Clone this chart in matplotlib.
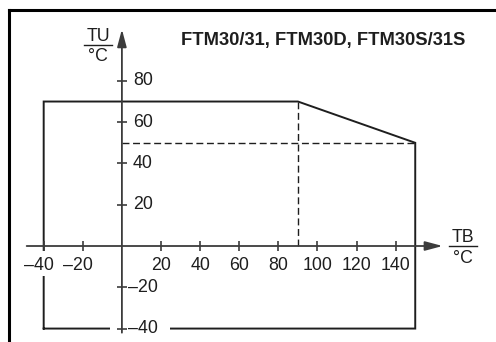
import matplotlib
matplotlib.use("Agg")
import matplotlib.pyplot as plt
from matplotlib.lines import Line2D
from matplotlib.patches import Rectangle

plt.rcParams['font.family'] = ['Liberation Sans', 'DejaVu Sans']
plt.rcParams['lines.scale_dashes'] = False

# operating envelope (TB, TU) in degC
env_tb = [-40, -40, 90, 150, 150, -40]
env_tu = [-40, 70, 70, 50, -40, -40]

# dashed guide lines
knee_tb = 90
knee_tu = 70
limit_tb = 150
limit_tu = 50

x_ticks = [-40, -20, 20, 40, 60, 80, 100, 120, 140]
y_ticks = [80, 60, 40, 20, -20, -40]
title = "FTM30/31, FTM30D, FTM30S/31S"

INK = "#1e1e1e"
AXC = "#3c3c3c"
PX = 0.72  # points per pixel at 100 dpi

fig = plt.figure(figsize=(4.96, 3.42), dpi=100)
ax = fig.add_axes([0, 0, 1, 1])
ax.set_xlim(-62.34, 191.3)
ax.set_ylim(-46.51, 119.19)
ax.axis('off')

# envelope
ax.plot(env_tb, env_tu, color=INK, lw=1.4, zorder=1, solid_joinstyle='miter')
ax.plot([0, limit_tb], [limit_tu, limit_tu], color=INK, lw=1.0,
        dashes=(5, 2.6), zorder=1)
ax.plot([knee_tb, knee_tb], [0, knee_tu], color=INK, lw=1.0,
        dashes=(5, 2.6), zorder=1)

# white gaps behind the -40 labels
ax.add_patch(Rectangle((-6, -42.5), 30.5, 5, color='white', zorder=2, lw=0))
ax.add_patch(Rectangle((-43, -14.5), 6, 12.2, color='white', zorder=2, lw=0))

# axes with arrows
arw = dict(arrowstyle='-|>,head_length=1.05,head_width=0.28', color=AXC,
           lw=1.3, shrinkA=0, shrinkB=0, mutation_scale=10)
ax.annotate('', xy=(164, 0), xytext=(-48.7, 0), arrowprops=arw, zorder=3)
ax.annotate('', xy=(0, 105), xytext=(0, -42), arrowprops=arw, zorder=3)

ax.plot(x_ticks, [0] * len(x_ticks), ls='none', marker='|', ms=7,
        mew=1.2, color=AXC, zorder=3)
ax.plot([0] * len(y_ticks), y_ticks, ls='none', marker='_', ms=7,
        mew=1.2, color=AXC, zorder=3)

for t in x_ticks:
    lab = f"{abs(t)}" if t > 0 else f"\u2013{abs(t)}"
    dx = -5 if t < 0 else 0
    ax.annotate(lab, xy=(t, 0), xytext=(dx * PX, -19.5 * PX),
                textcoords='offset points', ha='center', va='center',
                fontsize=12.8, color=INK, zorder=4)

for t in y_ticks:
    lab = f"{abs(t)}" if t > 0 else f"\u2013{abs(t)}"
    dx = 11 if t > 0 else 6
    ax.annotate(lab, xy=(0, t), xytext=(dx * PX, 0),
                textcoords='offset points', ha='left', va='center',
                fontsize=12.8, color=INK, zorder=4)


def frac(x, y, top, bottom):
    ax.annotate(top, xy=(x, y), xytext=(0, 8.5 * PX), textcoords='offset points',
                ha='center', va='center', fontsize=12.8, color=INK)
    ax.annotate(bottom, xy=(x, y), xytext=(0, -12 * PX), textcoords='offset points',
                ha='center', va='center', fontsize=12.8, color=INK)
    ax.plot([x - 7.0, x + 7.0], [y, y], color=INK, lw=1.0)


frac(-12.2, 97.4, "TU", "\u00b0C")
frac(174.4, 0, "TB", "\u00b0C")

ax.text(103.1, 99.8, title, ha='center', va='center', fontsize=13.2,
        fontweight='bold', color=INK)

# frame (top and left edge)
fx = 8.5 / 496
fy = 1 - 10 / 342
fig.add_artist(Line2D([fx, 1.0], [fy, fy], transform=fig.transFigure,
                      color='black', lw=2.2, solid_capstyle='projecting'))
fig.add_artist(Line2D([fx, fx], [0, fy], transform=fig.transFigure,
                      color='black', lw=2.2, solid_capstyle='projecting'))

fig.savefig("out.png", dpi=100)
